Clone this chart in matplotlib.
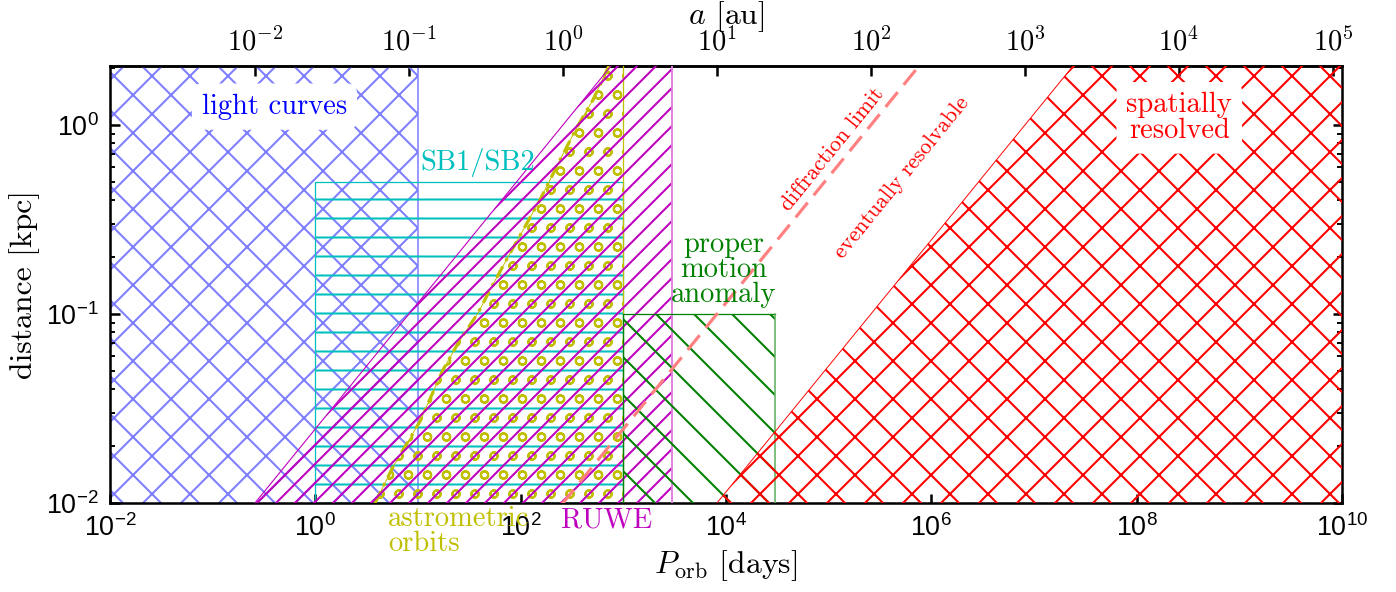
import numpy as np
import matplotlib
matplotlib.use("Agg")
import matplotlib.pyplot as plt
from matplotlib.ticker import NullLocator, LogLocator

plt.rcParams['font.family'] = ['Liberation Sans', 'DejaVu Sans']
plt.rcParams['mathtext.fontset'] = 'cm'
plt.rcParams['hatch.linewidth'] = 0.65

# total binary mass [Msun] used to convert period <-> separation
M_tot = 2.0

# light curves: period range [days]
P_lc = [1e-3, 10.0]
# SB1/SB2: period range [days], max distance [kpc]
P_sb = [1.0, 1000.0]
d_sb_max = 0.5
# RUWE: angular separation limit [arcsec], max period [days]
theta_ruwe = 1e-3
P_ruwe_max = 3000.0
# astrometric orbits: left boundary, max period
astro_P = [3.81, 5.70, 10.4, 17.5, 25.6, 38.4, 50.2, 75.2, 154.0, 242.0, 354.0, 506.0, 693.0, 724.0]
astro_d = [0.0100, 0.0155, 0.0269, 0.0506, 0.0728, 0.101, 0.134, 0.200, 0.401, 0.653, 0.975, 1.355, 1.954, 2.05]
P_astro_max = 1000.0
# proper motion anomaly
P_pma = [1000.0, 3.0e4]
d_pma_max = 0.1
# diffraction limit and spatially resolved [arcsec]
theta_diff = 0.1
theta_res = 1.0

x_ticks = [10.0 ** k for k in range(-2, 11, 2)]
a_ticks = [10.0 ** k for k in range(-2, 6)]


def a_au(P):
    P = np.abs(np.asarray(P, dtype=float))
    return (M_tot * (P / 365.25) ** 2) ** (1.0 / 3.0)


def P_days(a):
    a = np.abs(np.asarray(a, dtype=float))
    return 365.25 * np.sqrt(a ** 3 / M_tot)


def P_at_angle(d_kpc, theta):
    # separation a [au] = theta [arcsec] * d [pc]
    return P_days(theta * d_kpc * 1000.0)


serif = 'cmr10'
dpi = 228
fig = plt.figure(figsize=(1396 / dpi, 592 / dpi), dpi=dpi)
ax = fig.add_axes([110 / 1396, 1 - 503 / 592, 1232 / 1396, 437 / 592])
ax.set_xscale('log')
ax.set_yscale('log')
ax.set_xlim(1e-2, 1e10)
ax.set_ylim(1e-2, 2.05)

d_all = np.logspace(-3, 1, 400)

# light curves
ax.fill_betweenx([1e-3, 10], P_lc[0], P_lc[1], facecolor='none',
                 edgecolor='#8080ff', hatch='xx', lw=0, zorder=1)
ax.plot([P_lc[1], P_lc[1]], [1e-3, 10], color='#8080ff', lw=0.5, zorder=1)

# SB1/SB2
ax.fill_betweenx([1e-3, d_sb_max], P_sb[0], P_sb[1], facecolor='none',
                 edgecolor='c', hatch='--', lw=0, zorder=2)
ax.plot([P_sb[0], P_sb[0], P_sb[1], P_sb[1]], [1e-3, d_sb_max, d_sb_max, 1e-3],
        color='c', lw=0.4, zorder=2)

# astrometric orbits
ax.fill_betweenx(astro_d, astro_P, P_astro_max, facecolor='none',
                 edgecolor='y', hatch='oo', lw=0, zorder=3)
ax.plot(astro_P, astro_d, color='y', lw=0.3, zorder=3)
ax.plot(astro_P, astro_d, color='y', lw=1.0, dashes=(4, 2, 1, 2), zorder=3)
ax.plot([P_astro_max, P_astro_max], [1e-3, 10], color='y', lw=0.4, zorder=3)

# RUWE
d_r = np.logspace(-3, np.log10(3), 200)
P_r = np.minimum(P_at_angle(d_r, theta_ruwe), P_ruwe_max)
ax.fill_betweenx(d_r, P_r, P_ruwe_max, facecolor='none',
                 edgecolor='m', hatch='////', lw=0, zorder=4)
ax.plot(P_r, d_r, color='m', lw=0.35, zorder=4)
ax.plot([P_ruwe_max, P_ruwe_max], [1e-3, 10], color='#df80df', lw=0.6, zorder=4)

# proper motion anomaly
ax.fill_betweenx([1e-3, d_pma_max], P_pma[0], P_pma[1], facecolor='none',
                 edgecolor='g', hatch='\\\\', lw=0, zorder=5)
ax.plot([P_pma[0], P_pma[0], P_pma[1]], [1e-3, d_pma_max, d_pma_max],
        color='g', lw=0.4, zorder=5)
ax.plot([P_pma[1], P_pma[1]], [1e-3, d_pma_max], color='#60b060', lw=0.5, zorder=5)

# spatially resolved
P_s = P_at_angle(d_all, theta_res)
ax.fill_betweenx(d_all, P_s, 1e13, facecolor='none',
                 edgecolor='r', hatch='xx', lw=0, zorder=6)
ax.plot(P_s, d_all, color='r', lw=0.3, zorder=6)

# diffraction limit
ax.plot(P_at_angle(d_all, theta_diff), d_all, color='#ff8080', lw=1.0,
        dashes=(6, 3), zorder=7)

# labels
tkw = dict(family=serif, ha='center', va='center', zorder=10)
ax.text(0.4, 1.25, 'light curves', color='b', fontsize=9,
        bbox=dict(boxstyle='round,pad=0.35', fc='w', ec='none'), **tkw)
ax.text(38, 0.63, 'SB1/SB2', color='c', fontsize=9, **tkw)
ax.text(5.1, 0.0097, 'astrometric\norbits', color='y', fontsize=9,
        family=serif, ha='left', va='top', linespacing=0.95, clip_on=False)
ax.text(690, 0.0081, 'RUWE', color='m', fontsize=9, clip_on=False, **tkw)
ax.text(9550, 0.171, 'proper\nmotion\nanomaly', color='g', fontsize=9,
        linespacing=0.95, **tkw)
ax.text(2.6e8, 1.09, 'spatially\nresolved', color='r', fontsize=9, linespacing=0.95,
        bbox=dict(boxstyle='round,pad=0.35', fc='w', ec='none'), **tkw)
ax.text(10 ** 5.04, 0.74, 'diffraction limit', color='r', fontsize=7,
        rotation=51, rotation_mode='anchor', **tkw)
ax.text(10 ** 5.714, 0.53, 'eventually resolvable', color='r', fontsize=7,
        rotation=51, rotation_mode='anchor', **tkw)

# axes and ticks
ax.set_xticks(x_ticks)
ax.set_xticklabels([r'$\mathregular{10^{%d}}$' % np.log10(t) for t in x_ticks])
ax.xaxis.set_minor_locator(NullLocator())
ax.set_yticks([1e-2, 1e-1, 1e0])
ax.set_yticklabels([r'$\mathregular{10^{%d}}$' % k for k in (-2, -1, 0)])
ax.yaxis.set_minor_locator(LogLocator(subs=np.arange(2, 10)))
ax.tick_params(which='both', direction='in', top=False, right=True, labelsize=8.5)
ax.tick_params(which='major', length=3)
ax.tick_params(which='minor', length=1.7)
ax.set_xlabel(r'$P_\mathrm{orb}$ [days]', family=serif, fontsize=10, labelpad=2)
ax.set_ylabel('distance [kpc]', family=serif, fontsize=10, labelpad=2)

sec = ax.secondary_xaxis('top', functions=(a_au, P_days))
sec.set_xticks(a_ticks)
sec.set_xticklabels([r'$10^{%d}$' % np.log10(t) for t in a_ticks])
sec.xaxis.set_minor_locator(NullLocator())
sec.tick_params(direction='in', length=3, labelsize=9, pad=3)
sec.set_xlabel('$a$ [au]', family=serif, fontsize=10, labelpad=1)

fig.savefig('out.png', dpi=dpi)
